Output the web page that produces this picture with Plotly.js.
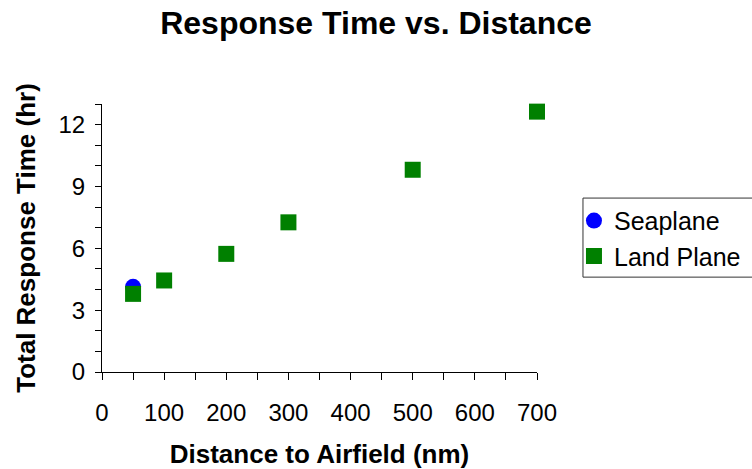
<!DOCTYPE html>
<html>
<head>
<meta charset="utf-8">
<script src="https://cdn.plot.ly/plotly-3.0.1.min.js"></script>
<style>html,body{margin:0;padding:0;background:#fff;}#chart{width:752px;height:469px;}</style>
</head>
<body>
<div id="chart"></div>
<script>
var seaplaneDistance = [50];
var seaplaneTime = [4.13];
var landDistance = [50, 100, 200, 300, 500, 700];
var landTime = [3.79, 4.44, 5.73, 7.26, 9.81, 12.63];
var xTickVals = [0, 100, 200, 300, 400, 500, 600, 700];
var yTickVals = [0, 3, 6, 9, 12];

var traces = [
  {x: seaplaneDistance, y: seaplaneTime, name: 'Seaplane', type: 'scatter', mode: 'markers', cliponaxis: false,
   marker: {symbol: 'circle', size: 16, color: '#0000FF'}},
  {x: landDistance, y: landTime, name: 'Land Plane', type: 'scatter', mode: 'markers', cliponaxis: false,
   marker: {symbol: 'square', size: 16, color: '#008000'}}
];

var font = 'Arial, "Liberation Sans", sans-serif';
var layout = {
  width: 752, height: 469,
  margin: {l: 102, r: 215, t: 104, b: 97, autoexpand: false},
  paper_bgcolor: '#fff', plot_bgcolor: '#fff',
  font: {family: font, color: '#000', size: 24},
  title: {text: '<b>Response Time vs. Distance</b>', font: {size: 32, family: font, color: '#000'},
          x: 0.5, xref: 'container', y: 1 - 23/469, yref: 'container', xanchor: 'center', yanchor: 'middle'},
  showlegend: true,
  legend: {x: 1.085, y: 0.65, xanchor: 'left', yanchor: 'top', borderwidth: 0,
           font: {size: 25, family: font}, bgcolor: 'rgba(0,0,0,0)', tracegroupgap: 0, itemwidth: 30},
  shapes: [{type: 'rect', xref: 'paper', yref: 'paper', x0: 1.1057, x1: 1.6, y0: 0.354, y1: 0.649,
            line: {color: '#333', width: 1}, fillcolor: 'rgba(0,0,0,0)', layer: 'below'}],
  xaxis: {
    range: [0, 700], tickvals: xTickVals, ticktext: xTickVals.map(String),
    showgrid: false, zeroline: false, showline: true, linecolor: '#000', linewidth: 1,
    ticks: 'outside', ticklen: 7, tickcolor: '#000', tickwidth: 1, ticklabelstandoff: 12,
    minor: {dtick: 50, tick0: 0, ticks: 'outside', ticklen: 7, tickcolor: '#000', showgrid: false},
    tickfont: {size: 24, family: font},
    title: {text: '<b>Distance to Airfield (nm)</b>', font: {size: 26, family: font}, standoff: 22}
  },
  yaxis: {
    range: [0, 13], tickvals: yTickVals, ticktext: yTickVals.map(String),
    showgrid: false, zeroline: false, showline: true, linecolor: '#000', linewidth: 1,
    ticks: 'outside', ticklen: 6, tickcolor: '#000', tickwidth: 1, ticklabelstandoff: 5,
    minor: {dtick: 1, tick0: 0, ticks: 'outside', ticklen: 6, tickcolor: '#000', showgrid: false},
    tickfont: {size: 24, family: font},
    title: {text: '<b>Total Response Time (hr)</b>', font: {size: 26, family: font}, standoff: 15}
  }
};

Plotly.newPlot('chart', traces, layout, {displayModeBar: false, staticPlot: true});
</script>
</body>
</html>
